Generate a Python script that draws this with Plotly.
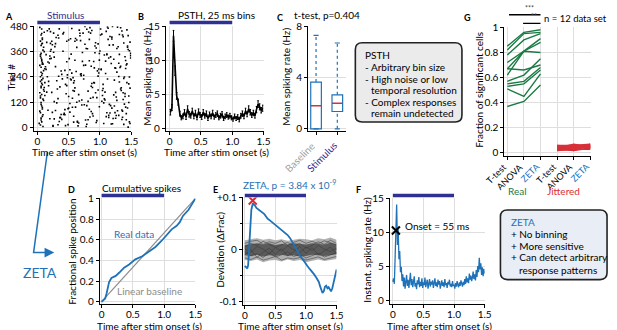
import plotly.graph_objects as go

# ---------------- DATA ----------------
# A: raster (spike time s, trial #)
raster_onset_t = [0.05,0.07,0.06,0.09,0.04,0.08,0.06,0.1,0.05,0.07,0.11,0.06,0.08,0.05,0.09,0.07,0.06,0.12,0.04,0.08,
                  0.07,0.05,0.06,0.09,0.1,0.07,0.05,0.08,0.06,0.11,0.07,0.04,0.09,0.06,0.08,0.05,0.07,0.1,0.06,0.08,
                  0.03,0.08,0.05,0.07,0.06,0.09,0.04,0.1,0.06,0.07,0.05,0.08,0.06,0.09,0.07,0.05,0.11,0.06,0.08,0.07]
raster_onset_trial = [12,27,45,61,78,95,110,128,141,157,172,189,203,219,233,248,262,279,295,308,
                      323,338,352,367,381,396,410,425,439,452,467,475,5,36,88,150,210,270,330,400,
                      20,53,70,102,119,135,165,180,196,226,241,256,286,301,316,345,360,389,418,446]
raster_bg_t = [0.21,0.47,0.83,1.12,1.38,0.15,0.66,0.94,1.27,1.46,0.33,0.58,0.77,1.05,1.31,0.25,0.52,0.89,1.19,1.42,
               0.18,0.41,0.71,1.01,1.35,0.29,0.63,0.86,1.23,1.49,0.12,0.55,0.79,1.09,1.29,0.37,0.6,0.97,1.16,1.44,
               0.26,0.49,0.74,1.03,1.33,0.19,0.44,0.91,1.21,1.4,0.35,0.68,0.81,1.14,1.36,0.23,0.57,0.99,1.25,1.47,
               0.31,0.53,0.88,1.07,1.3,0.16,0.62,0.85,1.18,1.43,0.28,0.45,0.73,1.11,1.37,0.39,0.69,0.95,1.22,1.48,
               0.14,0.43,0.76,1.04,1.32,0.27,0.59,0.92,1.2,1.41,0.36,0.51,0.84,1.13,1.39,0.22,0.65,0.98,1.26,1.45,
               0.2,0.48,0.72,1.06,1.34,0.3,0.61,0.87,1.17,1.46,0.13,0.56,0.8,1.1,1.28,0.4,0.67,0.93,1.24,1.42,
               0.24,0.46,0.78,1.02,1.36,0.17,0.54,0.9,1.15,1.44,0.34,0.64,0.82,1.08,1.33,0.27,0.5,0.96,1.21,1.49,
               0.32,0.42,0.75,1.0,1.31,0.2,0.58,0.86,1.19,1.4,0.38,0.7,0.83,1.12,1.35,0.15,0.6,0.94,1.27,1.47,
               0.22,0.5,0.79,1.05,1.38,0.33,0.63,0.91,1.14,1.43,0.18,0.47,0.77,1.09,1.3,0.26,0.66,0.99,1.23,1.45,
               0.29,0.44,0.81,1.03,1.37,0.21,0.57,0.89,1.18,1.48,0.35,0.52,0.74,1.11,1.34,0.24,0.68,0.97,1.25,1.41]
raster_bg_trial = [455,312,87,230,401,168,22,377,263,119,438,54,296,185,347,9,274,143,420,66,
                   198,362,131,467,38,289,415,76,225,341,152,470,104,256,383,47,319,178,432,93,
                   357,14,248,125,473,306,61,212,392,161,29,447,173,330,78,409,237,99,281,364,
                   117,421,190,344,58,459,266,139,17,302,384,205,448,70,165,252,412,33,324,187,
                   276,68,395,152,285,41,222,355,480,97,193,327,50,418,111,370,8,259,145,436,
                   42,236,314,19,176,427,97,460,335,207,288,139,374,52,476,231,126,402,71,297,
                   393,160,5,274,439,82,348,214,110,387,243,30,453,168,290,123,415,269,43,352,
                   183,451,108,363,216,339,26,196,429,147,62,255,317,477,83,404,188,24,375,240,
                   328,92,466,205,15,137,380,283,48,463,219,409,36,315,242,448,156,351,102,2,
                   81,271,37,443,133,399,176,55,304,19,468,114,230,346,189,72,435,244,167,318]
raster_bg2_t = [0.08,0.36,0.61,0.93,1.24,0.45,0.72,1.06,1.39,0.19,0.52,0.87,1.15,1.46,0.27,0.64,0.98,1.31,0.11,0.42,
                0.78,1.08,1.35,0.31,0.56,0.9,1.2,1.48,0.23,0.69,1.01,1.28,0.14,0.47,0.81,1.13,1.42,0.38,0.6,0.95,
                1.26,0.2,0.53,0.85,1.17,1.44,0.33,0.74,1.04,1.37,0.16,0.49,0.67,0.99,1.22,1.47,0.29,0.58,0.88,1.11,
                1.33,0.41,0.71,1.02,1.4,0.25,0.55,0.83,1.19,1.45,0.12,0.39,0.76,1.07,1.3,0.48,0.63,0.92,1.25,1.43,
                0.34,0.59,0.86,1.14,1.38,0.21,0.5,0.79,1.1,1.49,0.44,0.7,0.97,1.27,1.36,0.17,0.54,0.84,1.16,1.41]
raster_bg2_trial = [301,47,422,165,283,9,356,117,240,468,73,209,391,150,334,26,278,441,190,62,
                    375,131,458,222,96,313,18,405,167,252,439,80,346,199,124,471,37,268,409,142,
                    57,326,230,448,104,381,13,295,176,431,241,89,462,320,155,27,398,212,66,349,
                    183,444,107,277,336,6,258,418,92,370,213,39,479,136,305,250,120,387,44,213,
                    425,173,291,58,233,362,147,16,456,330,85,246,397,129,49,311,226,474,69,280]

# B: PSTH, 25 ms bins
psth_bin_width = 0.025
psth_rate = [2.4,3.1,13.6,8.5,4.8,3.9,2.2,1.6,1.8,2.4,1.7,2.9,2.1,1.9,2.6,1.8,2.3,1.6,2.5,2.0,
             1.7,2.4,1.9,2.2,1.5,2.1,1.8,2.3,1.7,2.0,2.2,1.6,1.9,2.1,1.5,1.8,2.0,1.7,1.9,1.6,
             1.4,1.8,1.5,1.7,1.3,1.9,2.2,1.8,2.6,2.1,2.9,2.4,2.0,2.3,1.9,2.8,3.6,3.2,2.7,3.0]
psth_sem = [0.4,0.45,0.8,0.7,0.5,0.45,0.35,0.3,0.35,0.4,0.35,0.45,0.4,0.35,0.4,0.35,0.4,0.3,0.4,0.35,
            0.35,0.4,0.35,0.4,0.3,0.35,0.35,0.4,0.3,0.35,0.4,0.3,0.35,0.4,0.3,0.35,0.35,0.3,0.35,0.3,
            0.3,0.35,0.3,0.35,0.3,0.35,0.4,0.35,0.4,0.35,0.45,0.4,0.35,0.4,0.35,0.45,0.5,0.45,0.4,0.45]

# C: box plots (Hz)
box_names = ["Baseline", "Stimulus"]
box_lo = [0.0, 0.0]
box_q1 = [0.0, 1.35]
box_med = [1.8, 2.0]
box_q3 = [3.65, 2.65]
box_hi = [7.3, 6.7]

# G: fraction of significant cells
g_tests = ["T-test", "ANOVA", "ZETA", "T-test", "ANOVA", "ZETA"]
g_real = [[0.85,0.96,0.98],[0.82,0.95,0.96],[0.78,0.90,0.95],[0.72,0.81,0.91],
          [0.67,0.81,0.80],[0.62,0.81,0.88],[0.67,0.66,0.70],[0.57,0.62,0.75],
          [0.55,0.57,0.68],[0.53,0.55,0.66],[0.51,0.45,0.63],[0.37,0.41,0.54]]
g_jit = [[0.03,0.02,0.04],[0.05,0.04,0.06],[0.04,0.07,0.05],[0.02,0.03,0.07],
         [0.06,0.05,0.04],[0.03,0.06,0.05],[0.04,0.03,0.03],[0.05,0.02,0.06],
         [0.02,0.04,0.05],[0.06,0.06,0.07],[0.03,0.05,0.04],[0.04,0.04,0.06]]

# D: cumulative spikes
d_t = [0,0.03,0.058,0.08,0.095,0.12,0.158,0.226,0.28,0.36,0.44,0.54,0.65,0.75,0.86,0.96,1.02,1.07,1.12,1.2,1.25,1.3,1.36,1.39,1.44,1.5]
d_frac = [0,0.012,0.03,0.08,0.125,0.19,0.23,0.25,0.28,0.33,0.36,0.41,0.44,0.48,0.53,0.59,0.63,0.67,0.70,0.735,0.77,0.83,0.875,0.89,0.94,1.0]
baseline_t = [0, 1.5]
baseline_frac = [0, 1]

# E: deviation
e_t = [0,0.02,0.04,0.055,0.065,0.075,0.085,0.095,0.107,0.12,0.134,0.15,0.17,0.19,0.21,0.24,0.27,0.3,0.32,0.35,0.375,
       0.41,0.45,0.48,0.52,0.56,0.59,0.63,0.67,0.7,0.74,0.77,0.8,0.84,0.87,0.91,0.95,0.98,1.02,1.06,1.09,1.13,
       1.17,1.21,1.23,1.25,1.27,1.29,1.31,1.33,1.35,1.37,1.39,1.41,1.43,1.45,1.47,1.5]
e_dev = [-0.031,-0.033,-0.036,-0.03,-0.01,0.02,0.05,0.066,0.076,0.083,0.089,0.086,0.084,0.08,0.078,0.075,0.072,0.07,0.068,0.063,0.059,
         0.056,0.052,0.05,0.045,0.041,0.038,0.034,0.031,0.028,0.022,0.016,0.008,0.001,-0.006,-0.013,-0.019,-0.025,-0.031,-0.037,-0.041,-0.047,
         -0.054,-0.062,-0.07,-0.079,-0.083,-0.08,-0.071,-0.069,-0.074,-0.072,-0.077,-0.08,-0.074,-0.065,-0.052,-0.038]
e_peak_t = [0.13]
e_peak_dev = [0.094]
shuf_t = [0,0.1,0.2,0.3,0.4,0.5,0.6,0.7,0.8,0.9,1.0,1.1,1.2,1.3,1.4,1.5]
shuf_hi = [0.018,0.02,0.022,0.019,0.021,0.018,0.02,0.017,0.019,0.021,0.02,0.018,0.022,0.02,0.023,0.019]
shuf_lo = [-0.02,-0.022,-0.019,-0.024,-0.021,-0.02,-0.023,-0.019,-0.022,-0.02,-0.024,-0.021,-0.019,-0.022,-0.02,-0.018]
shuf_in_hi = [0.009,0.011,0.012,0.01,0.012,0.009,0.011,0.01,0.012,0.011,0.01,0.012,0.011,0.01,0.013,0.01]
shuf_in_lo = [-0.011,-0.012,-0.01,-0.013,-0.011,-0.012,-0.01,-0.012,-0.011,-0.013,-0.012,-0.01,-0.011,-0.012,-0.01,-0.009]
shuf_traces = [
    [0.005,0.012,0.008,0.016,0.01,0.004,0.009,0.014,0.007,0.012,0.003,0.008,0.015,0.01,0.018,0.012],
    [-0.004,-0.012,-0.008,-0.015,-0.006,-0.014,-0.01,-0.004,-0.013,-0.009,-0.016,-0.011,-0.007,-0.014,-0.01,-0.006],
    [0.002,-0.005,0.006,0.001,-0.008,0.004,-0.003,0.007,0.0,-0.006,0.005,-0.002,0.008,0.001,-0.004,0.003],
    [-0.01,0.0,-0.015,-0.005,0.003,-0.009,0.002,-0.012,-0.004,0.006,-0.007,0.004,-0.01,-0.002,0.005,-0.008],
    [0.012,0.016,0.018,0.01,0.015,0.012,0.017,0.008,0.014,0.018,0.012,0.016,0.011,0.017,0.013,0.009],
    [-0.016,-0.019,-0.014,-0.02,-0.017,-0.013,-0.02,-0.016,-0.018,-0.015,-0.02,-0.017,-0.014,-0.019,-0.016,-0.013],
]

# F: instantaneous spiking rate
f_dt = 0.0125
f_rate = [2.8,3.3,2.5,5.8,10.3,14.1,8.2,10.5,6.1,7.3,4.2,5.0,2.9,3.9,2.1,3.4,1.8,2.9,3.8,2.2,
          3.1,1.9,2.7,4.1,2.3,3.2,2.0,2.9,3.6,2.1,2.6,1.7,3.0,2.4,3.5,2.0,2.8,2.2,3.3,1.9,
          2.7,2.3,3.4,2.0,2.6,3.1,1.8,2.5,3.2,2.1,2.8,2.4,3.0,1.9,2.6,3.3,2.2,2.7,2.0,3.1,
          2.4,2.9,1.8,2.5,3.0,2.2,2.7,2.0,3.2,2.3,2.6,1.9,2.8,2.4,3.1,2.1,2.5,2.0,2.9,2.2,
          2.4,1.8,2.6,2.1,2.9,2.3,2.0,2.7,2.2,3.0,2.4,2.1,2.8,2.3,3.2,2.5,3.6,2.7,3.3,2.6,
          4.0,3.1,3.7,2.9,3.4,4.3,3.2,3.9,3.0,4.5,3.5,5.1,4.2,6.3,4.6,5.5,3.8,4.9,3.6,4.7,4.0]
f_onset_t = [0.05]
f_onset_rate = [10.3]

stim_on, stim_off = 0.0, 1.0

# ---------------- STYLE ----------------
W, H = 617, 330
FONT = "Lato"
FS = 10
NAVY = "#2e3192"
BLUE = "#1f72b8"
GREEN = "#1b7a43"
RED = "#d8303a"
GRID = "#dedede"


def px(x):
    return x / W


def py(y):
    return 1 - y / H


def xdom(a, b):
    return [px(a), px(b)]


def ydom(top, bottom):
    return [py(bottom), py(top)]


common = dict(showline=True, linecolor="black", linewidth=1, ticks="outside", ticklen=3,
              tickcolor="black", tickwidth=1, gridcolor=GRID, gridwidth=1, zeroline=False,
              tickfont=dict(size=FS, family=FONT, color="black"), fixedrange=True)
xcommon = dict(common, ticklabelstandoff=-2)

fig = go.Figure()

# A raster
fig.add_trace(go.Scatter(x=raster_onset_t + raster_bg_t + raster_bg2_t,
                         y=raster_onset_trial + raster_bg_trial + raster_bg2_trial,
                         mode="markers", marker=dict(size=1.6, color="black", symbol="square"),
                         xaxis="x", yaxis="y", hoverinfo="skip"))

# B PSTH
psth_t = [psth_bin_width * (i + 0.5) for i in range(len(psth_rate))]
fig.add_trace(go.Scatter(x=psth_t, y=psth_rate, mode="lines", line=dict(color="black", width=1.6),
                         error_y=dict(type="data", array=psth_sem, color="black", thickness=1, width=0.8),
                         xaxis="x2", yaxis="y2"))

# C boxes
shapes = []
for i in range(2):
    c = i + 1
    shapes.append(dict(type="rect", xref="x3", yref="y3", x0=c - 0.25, x1=c + 0.25, y0=box_q1[i], y1=box_q3[i],
                       line=dict(color=BLUE, width=1.2)))
    fig.add_trace(go.Scatter(x=[c, c], y=[box_q3[i], box_hi[i]], mode="lines",
                             line=dict(color=BLUE, width=1.2, dash="dot"), xaxis="x3", yaxis="y3"))
    if box_q1[i] > box_lo[i]:
        fig.add_trace(go.Scatter(x=[c, c], y=[box_lo[i], box_q1[i]], mode="lines",
                                 line=dict(color=BLUE, width=1.2, dash="dot"), xaxis="x3", yaxis="y3"))
    for v in (box_lo[i], box_hi[i]):
        fig.add_trace(go.Scatter(x=[c - 0.12, c + 0.12], y=[v, v], mode="lines",
                                 line=dict(color=BLUE, width=1.2), xaxis="x3", yaxis="y3"))
    fig.add_trace(go.Scatter(x=[c - 0.25, c + 0.25], y=[box_med[i], box_med[i]], mode="lines",
                             line=dict(color=RED, width=1.4), xaxis="x3", yaxis="y3"))

# G lines
for row in g_real:
    fig.add_trace(go.Scatter(x=[1, 2, 3], y=row, mode="lines", line=dict(color=GREEN, width=1.4),
                             xaxis="x4", yaxis="y4"))
for row in g_jit:
    fig.add_trace(go.Scatter(x=[4, 5, 6], y=row, mode="lines", line=dict(color=RED, width=1.4),
                             xaxis="x4", yaxis="y4"))

# D
fig.add_trace(go.Scatter(x=baseline_t, y=baseline_frac, mode="lines", line=dict(color="#8c8c8c", width=1.2),
                         xaxis="x5", yaxis="y5"))
fig.add_trace(go.Scatter(x=d_t, y=d_frac, mode="lines", line=dict(color=BLUE, width=1.8),
                         xaxis="x5", yaxis="y5"))

# E
fig.add_trace(go.Scatter(x=shuf_t + shuf_t[::-1], y=shuf_hi + shuf_lo[::-1], fill="toself",
                         fillcolor="rgba(150,150,150,0.75)", line=dict(width=0), mode="lines",
                         xaxis="x6", yaxis="y6"))
fig.add_trace(go.Scatter(x=shuf_t + shuf_t[::-1], y=shuf_in_hi + shuf_in_lo[::-1], fill="toself",
                         fillcolor="rgba(70,70,70,0.8)", line=dict(width=0), mode="lines",
                         xaxis="x6", yaxis="y6"))
for tr in shuf_traces:
    fig.add_trace(go.Scatter(x=shuf_t, y=tr, mode="lines", line=dict(color="rgba(60,60,60,0.7)", width=0.8),
                             xaxis="x6", yaxis="y6"))
fig.add_trace(go.Scatter(x=e_t, y=e_dev, mode="lines", line=dict(color=BLUE, width=1.8),
                         xaxis="x6", yaxis="y6"))
fig.add_trace(go.Scatter(x=e_peak_t, y=e_peak_dev, mode="markers",
                         marker=dict(symbol="x-thin", size=8, line=dict(color="#e8242c", width=2)),
                         xaxis="x6", yaxis="y6"))

# F
f_t = [f_dt * i for i in range(len(f_rate))]
fig.add_trace(go.Scatter(x=f_t, y=f_rate, mode="lines", line=dict(color=BLUE, width=1.3),
                         xaxis="x7", yaxis="y7"))
fig.add_trace(go.Scatter(x=f_onset_t, y=f_onset_rate, mode="markers",
                         marker=dict(symbol="x-thin", size=8, line=dict(color="black", width=2)),
                         xaxis="x7", yaxis="y7"))

t_ticks = dict(tickvals=[0, 0.5, 1, 1.5], ticktext=["0", "0.5", "1.0", "1.5"])
frac_ticks = dict(tickvals=[0, 0.2, 0.4, 0.6, 0.8, 1], ticktext=["0", "0.2", "0.4", "0.6", "0.8", "1"])
layout = dict(
    xaxis=dict(domain=xdom(33, 132), range=[-0.06, 1.5], anchor="y", **t_ticks, **xcommon),
    yaxis=dict(domain=ydom(20, 128), range=[-15, 480], anchor="x", tickvals=[0, 120, 240, 360, 480], **common),
    xaxis2=dict(domain=xdom(167, 266), range=[-0.06, 1.5], anchor="y2", **t_ticks, **xcommon),
    yaxis2=dict(domain=ydom(20, 128), range=[-0.3, 15], anchor="x2", tickvals=[0, 5, 10, 15], **common),
    xaxis3=dict(domain=xdom(311, 350), range=[0.62, 2.43], anchor="y3", showgrid=False, tickvals=[1, 2],
                showticklabels=False, **common),
    yaxis3=dict(domain=ydom(20, 128), range=[-0.15, 8], anchor="x3", tickvals=[0, 4, 8], **common),
    xaxis4=dict(domain=xdom(510, 598), range=[0.8235, 6.06], anchor="y4", tickvals=[1, 2, 3, 4, 5, 6],
                showticklabels=False, **common),
    yaxis4=dict(domain=ydom(21, 154), range=[-0.023, 1], anchor="x4", **frac_ticks, **common),
    xaxis5=dict(domain=xdom(100, 197), range=[-0.03, 1.5], anchor="y5", **t_ticks, **xcommon),
    yaxis5=dict(domain=ydom(198, 307), range=[-0.02, 1], anchor="x5", **frac_ticks, **common),
    xaxis6=dict(domain=xdom(245, 340), range=[-0.032, 1.5], anchor="y6", **t_ticks, **xcommon),
    yaxis6=dict(domain=ydom(197, 308), range=[-0.1056, 0.1], anchor="x6", tickvals=[-0.1, 0, 0.1],
                ticktext=["-0.1", "0", "+0.1"],
                minor=dict(tickvals=[-0.05, 0.05], showgrid=True, gridcolor=GRID, ticks="outside",
                           ticklen=2, tickcolor="black"), **common),
    xaxis7=dict(domain=xdom(394, 490), range=[-0.048, 1.5], anchor="y7", **t_ticks, **xcommon),
    yaxis7=dict(domain=ydom(198, 307), range=[-0.42, 15], anchor="x7", tickvals=[0, 5, 10, 15], **common),
)

# stimulus bars
for xr, yy in (("x", 16), ("x2", 16), ("x5", 195), ("x6", 195), ("x7", 195)):
    shapes.append(dict(type="line", xref=xr, yref="paper", x0=stim_on, x1=stim_off, y0=py(yy), y1=py(yy),
                       line=dict(color=NAVY, width=3.5)))

# significance bars in G
shapes.append(dict(type="line", xref="x4", yref="paper", x0=1.1, x1=3.0, y0=py(8), y1=py(8),
                   line=dict(color="black", width=1.3)))
shapes.append(dict(type="line", xref="x4", yref="paper", x0=1.95, x1=3.0, y0=py(17), y1=py(17),
                   line=dict(color="black", width=1.3)))


def rrect(x0, y0, x1, y1, r, fill, lw=1.6):
    p = (f"M {px(x0 + r)},{py(y0)} L {px(x1 - r)},{py(y0)} Q {px(x1)},{py(y0)} {px(x1)},{py(y0 + r)} "
         f"L {px(x1)},{py(y1 - r)} Q {px(x1)},{py(y1)} {px(x1 - r)},{py(y1)} "
         f"L {px(x0 + r)},{py(y1)} Q {px(x0)},{py(y1)} {px(x0)},{py(y1 - r)} "
         f"L {px(x0)},{py(y0 + r)} Q {px(x0)},{py(y0)} {px(x0 + r)},{py(y0)} Z")
    return dict(type="path", xref="paper", yref="paper", path=p, fillcolor=fill,
                line=dict(color="#222222", width=lw), layer="below")


shapes.append(rrect(359, 37, 467, 119, 7, "#ebebeb"))
shapes.append(rrect(506, 210, 614, 282, 7, "#e8edf6"))

# ZETA arrow line
shapes.append(dict(type="path", xref="paper", yref="paper",
                   path=f"M {px(47)},{py(150)} L {px(33)},{py(254)} L {px(46)},{py(254)}",
                   line=dict(color=BLUE, width=1.5)))

ann = []


def txt(x, y, s, size=FS, color="black", xa="center", ya="middle", angle=0):
    ann.append(dict(x=px(x), y=py(y), xref="paper", yref="paper", text=s, showarrow=False,
                    font=dict(family=FONT, size=size, color=color), xanchor=xa, yanchor=ya, textangle=angle))


# panel letters
for L, x, y in (("A", 8, 10), ("B", 142, 10), ("C", 283, 11), ("G", 473, 11),
                ("D", 71, 189), ("E", 217, 189), ("F", 362, 189)):
    txt(x, y, f"<b>{L}</b>", size=9)

# titles
txt(65, 8, "Stimulus", color=NAVY)
txt(218, 8, "PSTH, 25 ms bins")
txt(330, 8, "t-test, p=0.404")
txt(616, 12, "n = 12 data set", xa="right", size=9.5)
txt(142, 187, "Cumulative spikes")
txt(292, 184, "ZETA, p = 3.84 x 10<sup>-9</sup>", color=BLUE)

# axis titles
for x, y, s in ((10, 72, "Trial #"), (148, 72, "Mean spiking rate (Hz)"), (288, 72, "Mean spiking rate (Hz)"),
                (484, 86, "Fraction of significant cells"), (72, 253, "Fractional spike position"),
                (221, 251, "Deviation (ΔFrac)"), (370, 251, "Instant. spiking rate (Hz)")):
    txt(x, y, s, angle=-90)
for x, y, s in ((85, 150, "Time after stim onset (s)"), (218, 150, "Time after stim onset (s)"),
                (150, 330, "Time after stim onset (s)"), (293, 330, "Time after stim onset (s)"),
                (444, 330, "Time after stim onset (s)")):
    txt(x, y, s)

# C rotated category labels
txt(323, 134, box_names[0], color="#a0a0a0", xa="right", ya="top", angle=-45)
txt(345, 134, box_names[1], color=NAVY, xa="right", ya="top", angle=-45)

# G rotated category labels
for i, name in enumerate(g_tests):
    col = BLUE if name == "ZETA" else "black"
    ann.append(dict(x=i + 1, y=py(156), xref="x4", yref="paper", text=name, showarrow=False, xshift=4,
                    font=dict(family=FONT, size=9, color=col), xanchor="right", yanchor="top", textangle=-45))
txt(523, 190, "Real", color=GREEN)
txt(570, 190, "Jittered", color=RED)
txt(535, 7, "***", size=7, ya="bottom", color="#444444")
txt(540, 16, "**", size=7, ya="bottom", color="#444444")

# D labels
txt(135, 235, "Real data", color=BLUE)
txt(150, 294, "Linear baseline", color="#8c8c8c")
# F label
txt(407, 227, "Onset = 55 ms", xa="left")

# PSTH box text
for y, x, s in ((50, 367, "PSTH"), (62, 367, "- Arbitrary bin size"), (74, 367, "- High noise or low"),
                (86, 373, "temporal resolution"), (98, 367, "- Complex responses"), (110, 373, "remain undetected")):
    txt(x, y, s, xa="left")
# ZETA box text
txt(515, 222, "ZETA", color=BLUE, xa="left")
for y, x, s in ((235, 515, "+ No binning"), (247, 515, "+ More sensitive"), (259, 515, "+ Can detect arbitrary"),
                (272, 523, "response patterns")):
    txt(x, y, s, xa="left")

# big ZETA
txt(40, 275, "ZETA", size=14, color=BLUE)
ann.append(dict(x=px(54), y=py(254), xref="paper", yref="paper", ax=-10, ay=0, showarrow=True,
                arrowhead=2, arrowsize=1.3, arrowwidth=1.5, arrowcolor=BLUE, text=""))

fig.update_layout(**layout)
fig.update_layout(width=W, height=H, margin=dict(l=0, r=0, t=0, b=0), plot_bgcolor="white",
                  paper_bgcolor="white", showlegend=False, shapes=shapes, annotations=ann,
                  font=dict(family=FONT, size=FS, color="black"))
fig.write_html("out.html", config={"displayModeBar": False},
               post_script="document.body.style.margin='0';document.body.style.overflow='hidden';")
